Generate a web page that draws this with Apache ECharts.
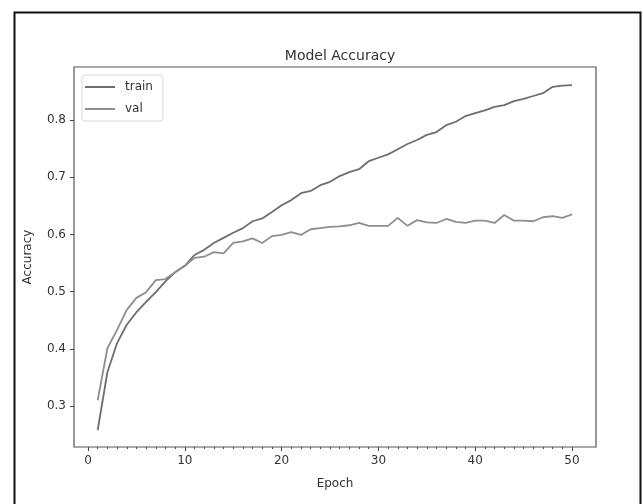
<!DOCTYPE html>
<html>
<head>
<meta charset="utf-8">
<title>Model Accuracy</title>
<script src="https://cdn.jsdelivr.net/npm/echarts@6/dist/echarts.min.js"></script>
<style>
  html, body { margin: 0; padding: 0; background: #fff; }
  #chart { width: 643px; height: 504px; }
</style>
</head>
<body>
<div id="chart"></div>
<script>
// epochs 1..50
const epochs = [1, 2, 3, 4, 5, 6, 7, 8, 9, 10, 11, 12, 13, 14, 15, 16, 17, 18, 19, 20,
  21, 22, 23, 24, 25, 26, 27, 28, 29, 30, 31, 32, 33, 34, 35, 36, 37, 38, 39, 40,
  41, 42, 43, 44, 45, 46, 47, 48, 49, 50]

const trainAcc = [0.258, 0.359, 0.410, 0.442, 0.464, 0.482, 0.499, 0.518, 0.534, 0.545,
  0.564, 0.573, 0.585, 0.594, 0.603, 0.611, 0.623, 0.628, 0.639, 0.651,
  0.660, 0.672, 0.676, 0.686, 0.692, 0.702, 0.709, 0.714, 0.728, 0.734,
  0.740, 0.749, 0.758, 0.765, 0.774, 0.779, 0.791, 0.797, 0.807, 0.812,
  0.817, 0.823, 0.826, 0.833, 0.837, 0.842, 0.847, 0.858, 0.860, 0.861]

const valAcc = [0.310, 0.401, 0.433, 0.468, 0.489, 0.499, 0.520, 0.522, 0.534, 0.545,
  0.559, 0.561, 0.569, 0.567, 0.585, 0.588, 0.593, 0.585, 0.597, 0.599,
  0.604, 0.599, 0.609, 0.611, 0.613, 0.614, 0.616, 0.620, 0.615, 0.615,
  0.615, 0.629, 0.615, 0.625, 0.621, 0.620, 0.627, 0.622, 0.620, 0.624,
  0.624, 0.620, 0.634, 0.624, 0.624, 0.623, 0.630, 0.632, 0.629, 0.635]

const xTicks = [0, 10, 20, 30, 40, 50]
const yTicks = [0.3, 0.4, 0.5, 0.6, 0.7, 0.8]

// 小刻度: 每个 epoch 一个
const xMinorTicks = []
for (let t = 0; t <= 50; t++) if (t % 10 !== 0) xMinorTicks.push(t)

const font = 'DejaVu Sans'
const textColor = '#333'
const tickColor = '#444'

const chart = echarts.init(document.getElementById('chart'))

const pairs = vals => epochs.map((e, i) => [e, vals[i]])

// 轴线不画(用 grid 边框), 也不要吸附到 0
const noLine = { show: false, onZero: false }
const hidden = { show: false }

const option = {
  animation: false,
  backgroundColor: '#fff',
  textStyle: { fontFamily: font },

  // 外框
  graphic: [{
    type: 'rect',
    left: 12,
    top: 10,
    shape: { width: 626, height: 500 },
    style: { fill: 'none', stroke: '#111', lineWidth: 2 },
    silent: true
  }],

  title: {
    text: 'Model Accuracy',
    left: 335,
    top: 44,
    textAlign: 'center',
    textStyle: { fontFamily: font, fontSize: 14, fontWeight: 'normal', color: textColor }
  },

  legend: {
    orient: 'vertical',
    left: 82,
    top: 75,
    padding: [6, 10, 6, 3],
    itemGap: 10,
    itemWidth: 30,
    itemHeight: 2,
    icon: 'path://M0,0H30V2H0Z',
    borderColor: '#d8d8d8',
    borderWidth: 1,
    borderRadius: 3,
    backgroundColor: '#fff',
    textStyle: { fontFamily: font, fontSize: 12, color: textColor, padding: [0, 0, 0, 5] },
    data: ['train', 'val']
  },

  grid: {
    left: 74, right: 47, top: 67, bottom: 57,
    show: true, borderColor: '#555', borderWidth: 1.2
  },

  xAxis: [
    {
      type: 'value',
      min: -1.45,
      max: 52.48,
      position: 'bottom',
      name: 'Epoch',
      nameLocation: 'middle',
      nameGap: 31,
      nameTextStyle: { fontFamily: font, fontSize: 12, color: textColor },
      axisLine: noLine,
      axisTick: { show: true, length: 4, customValues: xTicks, lineStyle: { color: tickColor } },
      axisLabel: { fontFamily: font, fontSize: 12, color: textColor, margin: 8, customValues: xTicks },
      splitLine: hidden
    },
    {
      // 小刻度
      type: 'value',
      min: -1.45,
      max: 52.48,
      position: 'bottom',
      axisLine: noLine,
      axisTick: { show: true, length: 2, customValues: xMinorTicks, lineStyle: { color: tickColor } },
      axisLabel: hidden,
      splitLine: hidden
    }
  ],

  yAxis: {
    type: 'value',
    min: 0.2283,
    max: 0.8927,
    position: 'left',
    name: 'Accuracy',
    nameLocation: 'middle',
    nameGap: 40,
    nameTextStyle: { fontFamily: font, fontSize: 12, color: textColor },
    axisLine: noLine,
    axisTick: { show: true, length: 4, customValues: yTicks, lineStyle: { color: tickColor } },
    axisLabel: {
      fontFamily: font, fontSize: 12, color: textColor, margin: 8,
      customValues: yTicks,
      formatter: v => v.toFixed(1)
    },
    splitLine: hidden
  },

  series: [
    {
      name: 'train',
      type: 'line',
      data: pairs(trainAcc),
      symbol: 'none',
      itemStyle: { color: '#6e6e6e' },
      lineStyle: { color: '#6e6e6e', width: 1.8 }
    },
    {
      name: 'val',
      type: 'line',
      data: pairs(valAcc),
      symbol: 'none',
      itemStyle: { color: '#8e8e8e' },
      lineStyle: { color: '#8e8e8e', width: 1.8 }
    }
  ]
}

chart.setOption(option)
</script>
</body>
</html>
